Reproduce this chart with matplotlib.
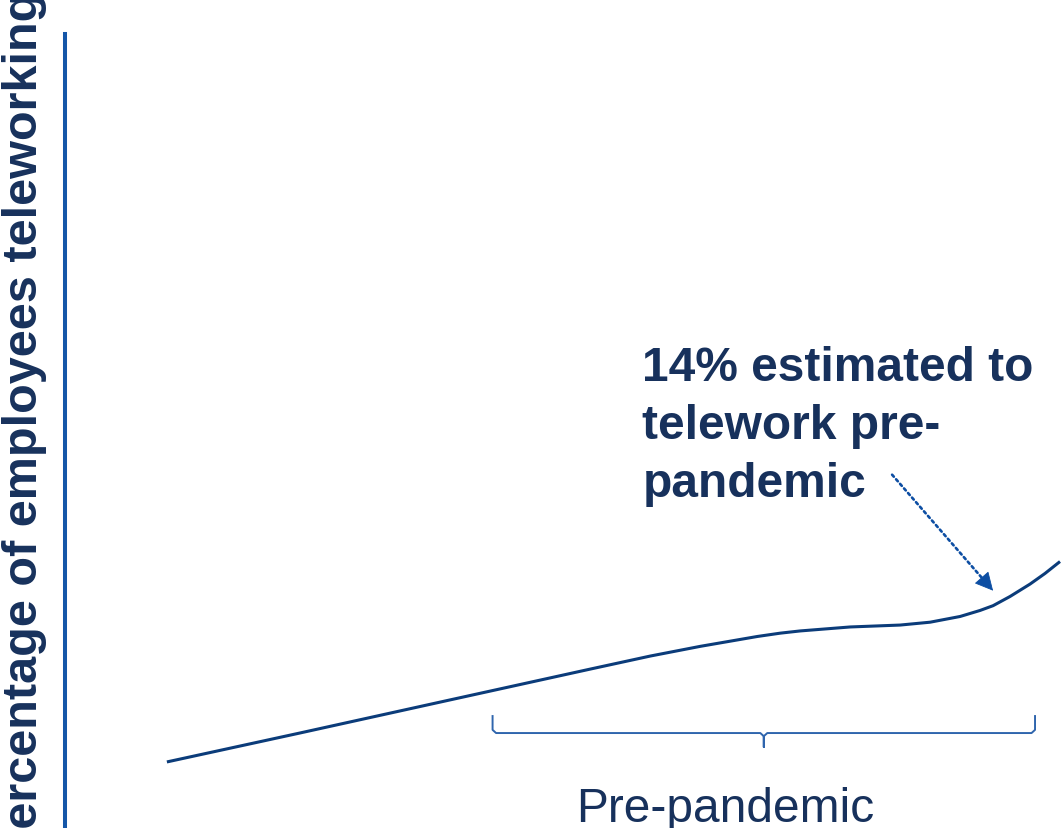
import matplotlib
matplotlib.use("Agg")
import numpy as np
import matplotlib.pyplot as plt
from matplotlib.transforms import offset_copy

plt.rcParams['font.family'] = ['Liberation Sans', 'DejaVu Sans']

# Teleworking trend (arbitrary time scale, share of employees in %)
time_x = [10.2, 23.5, 38.5, 52.6, 58.6, 63.6, 69.3, 71.6, 73.6, 78.6, 83.6,
          86.6, 89.6, 91.6, 92.9, 94.6, 96.6, 98.1, 99.6]
share = [4.16, 5.98, 8.06, 10.01, 10.83, 11.44, 12.06, 12.27, 12.41, 12.66, 12.78,
         12.96, 13.32, 13.70, 14.0, 14.58, 15.36, 16.03, 16.78]

pre_start, pre_end = 42.8, 97.1
label_x = 66.1
highlight_x, highlight_y = 92.9, 14.0

y_label = "Percentage of employees teleworking"
note = "14% estimated to\ntelework pre-\npandemic"
period_label = "Pre-pandemic"

NAVY = '#17315c'
LINE = '#0b3c7a'
AXIS = '#1456a8'
ARROW = '#0d4ea3'
BRACE = '#2f65ad'

W, H = 1064, 829
fig = plt.figure(figsize=(W / 100, H / 100), dpi=100)
ax = fig.add_axes([65 / W, 0, 999 / W, 794 / H])
ax.set_xlim(0, 100)
ax.set_ylim(0, 50)
for side in ('top', 'right', 'bottom'):
    ax.spines[side].set_visible(False)
ax.spines['left'].set_color(AXIS)
ax.spines['left'].set_linewidth(2.9)
ax.set_xticks([])
ax.set_yticks([])
ax.patch.set_visible(False)

ax.plot(time_x, share, color=LINE, lw=2.2, solid_joinstyle='round',
        solid_capstyle='butt')

# brace marking the pre-pandemic period
xm = (pre_start + pre_end) / 2
y_top, y_bar, y_tip = 7.05, 5.98, 5.10
dx, dy = 0.35, 0.2
bx = [pre_start, pre_start, pre_start + dx, xm - dx, xm, xm, xm, xm + dx,
      pre_end - dx, pre_end, pre_end]
by = [y_top, y_bar + dy, y_bar, y_bar, y_bar - dy, y_tip, y_bar - dy, y_bar,
      y_bar, y_bar + dy, y_top]
ax.plot(bx, by, color=BRACE, lw=1.4, solid_joinstyle='round')

ax.text(label_x, 0.44, period_label, ha='center', va='baseline', fontsize=34.5,
        color=NAVY)

ax.text(57.8, 20.9, note, ha='left', va='baseline', fontsize=34.5,
        fontweight='bold', color=NAVY, linespacing=1.38)

# dotted pointer with a solid head, ending just above the 14% point
tip = offset_copy(ax.transData, fig=fig, x=0, y=15, units='dots')
start = np.array([-72.7, 83.5])          # offset of the tail, in points
head_len = 10.4                          # head length, in points
unit = start / np.hypot(*start)
base = unit * head_len
ax.annotate('', xy=(highlight_x, highlight_y), xycoords=tip,
            xytext=tuple(start), textcoords='offset points',
            arrowprops=dict(arrowstyle='-', color=ARROW, lw=1.9,
                            linestyle=(0, (1, 1.3)), shrinkA=0,
                            shrinkB=head_len))
ax.annotate('', xy=(highlight_x, highlight_y), xycoords=tip,
            xytext=tuple(base), textcoords='offset points',
            arrowprops=dict(arrowstyle='-|>,head_length=11.7,head_width=5.95',
                            mutation_scale=1, color=ARROW, lw=0.6,
                            shrinkA=0, shrinkB=0))

fig.text(37 / W, (H - 426) / H, y_label, rotation=90, rotation_mode='anchor',
         ha='center', va='baseline', fontsize=35, fontweight='bold',
         color=NAVY)

fig.savefig('out.png', dpi=100)
